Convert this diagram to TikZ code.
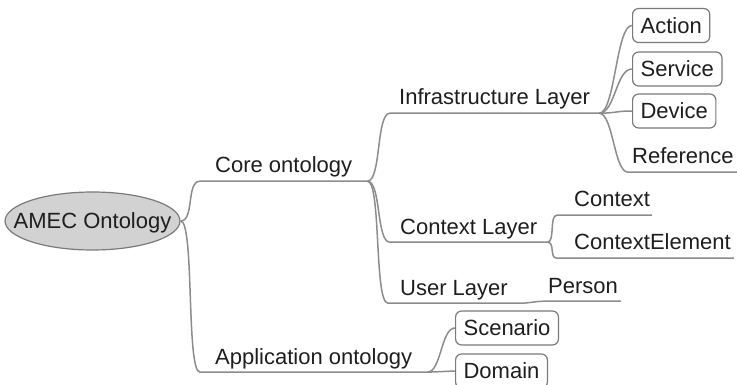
\documentclass[tikz,border=0pt]{standalone}
\usepackage{fontspec}
\setmainfont{Liberation Sans}
\usetikzlibrary{shapes.geometric}

\definecolor{linegray}{HTML}{8C8C8C}
\definecolor{boxgray}{HTML}{7A7A7A}
\definecolor{ovalfill}{HTML}{D2D2D2}
\definecolor{inkgray}{HTML}{1E1E1E}

\begin{document}
\begin{tikzpicture}[x=1pt, y=-1pt,
  topic/.style={font=\fontsize{22}{26}\selectfont, text=inkgray, anchor=base west, inner xsep=#1, inner ysep=8pt, text depth=0pt},
  topic/.default=6pt,
  leaf/.style={draw=boxgray, line width=1.2pt, rounded corners=6pt, fill=white, font=\fontsize{22}{26}\selectfont, text=inkgray, anchor=west, inner xsep=8pt, minimum height=34pt},
  branch/.style={draw=linegray, line width=1.5pt}]
\useasboundingbox (0,0) rectangle (737,385);

% Root of the map
\node[ellipse, draw=boxgray, line width=1.2pt, fill=ovalfill, font=\fontsize{22}{26}\selectfont, text=inkgray, inner xsep=-17pt, inner ysep=0pt, text depth=0pt, minimum width=169pt, minimum height=58pt] (amec) at (92.5,221) {AMEC Ontology};

% First level
\node[topic=15pt] (core) at (200,173) {Core ontology};
\node[topic=15pt] (app) at (200,364) {Application ontology};

% Layers of the core
\node[topic=9pt] (infra) at (390,105) {Infrastructure Layer};
\node[topic=10pt] (ctxl) at (390,234) {Context Layer};
\node[topic=12pt] (user) at (388,295) {User Layer};

% Leaves
\node[leaf] (action) at (632,25.5) {Action};
\node[leaf] (service) at (632,69) {Service};
\node[leaf] (device) at (632,111) {Device};
\node[topic=4pt] (refer) at (628,164) {Reference};
\node[topic=2pt] (context) at (572,207) {Context};
\node[topic=3pt] (ctxel) at (571,250) {ContextElement};
\node[topic=3pt] (person) at (545,293) {Person};
\node[leaf] (scen) at (455,328) {Scenario};
\node[leaf] (dom) at (455,371) {Domain};

% Branches
\draw[branch] (amec.east) .. controls +(14,0) and +(-14,0) .. (core.south west) -- (core.south east);
\draw[branch] (amec.east) .. controls +(14,0) and +(-14,0) .. (app.south west) -- (app.south east);
\draw[branch] (core.south east) .. controls +(14,0) and +(-14,0) .. (infra.south west) -- (infra.south east);
\draw[branch] (core.south east) .. controls +(14,0) and +(-14,0) .. (ctxl.south west) -- (ctxl.south east);
\draw[branch] (core.south east) .. controls +(14,0) and +(-14,0) .. (user.south west) -- (user.south east);
\draw[branch] (infra.south east) .. controls +(16,0) and +(-16,0) .. (action.west);
\draw[branch] (infra.south east) .. controls +(16,0) and +(-16,0) .. (service.west);
\draw[branch] (infra.south east) .. controls +(16,0) and +(-16,0) .. (device.west);
\draw[branch] (infra.south east) .. controls +(14,0) and +(-14,0) .. (refer.south west) -- (refer.south east);
\draw[branch] (ctxl.south east) .. controls +(8,0) and +(-8,0) .. ([xshift=-15pt]context.south west) -- (context.south east);
\draw[branch] (ctxl.south east) .. controls +(8,0) and +(-8,0) .. ([xshift=-14pt]ctxel.south west) -- (ctxel.south east);
\draw[branch] (user.south east) .. controls +(10,0) and +(-10,0) .. (person.south west) -- (person.south east);
\draw[branch] (app.south east) .. controls +(14,0) and +(-14,0) .. (scen.west);
\draw[branch] (app.south east) .. controls +(14,0) and +(-14,0) .. (dom.west);
\end{tikzpicture}
\end{document}
